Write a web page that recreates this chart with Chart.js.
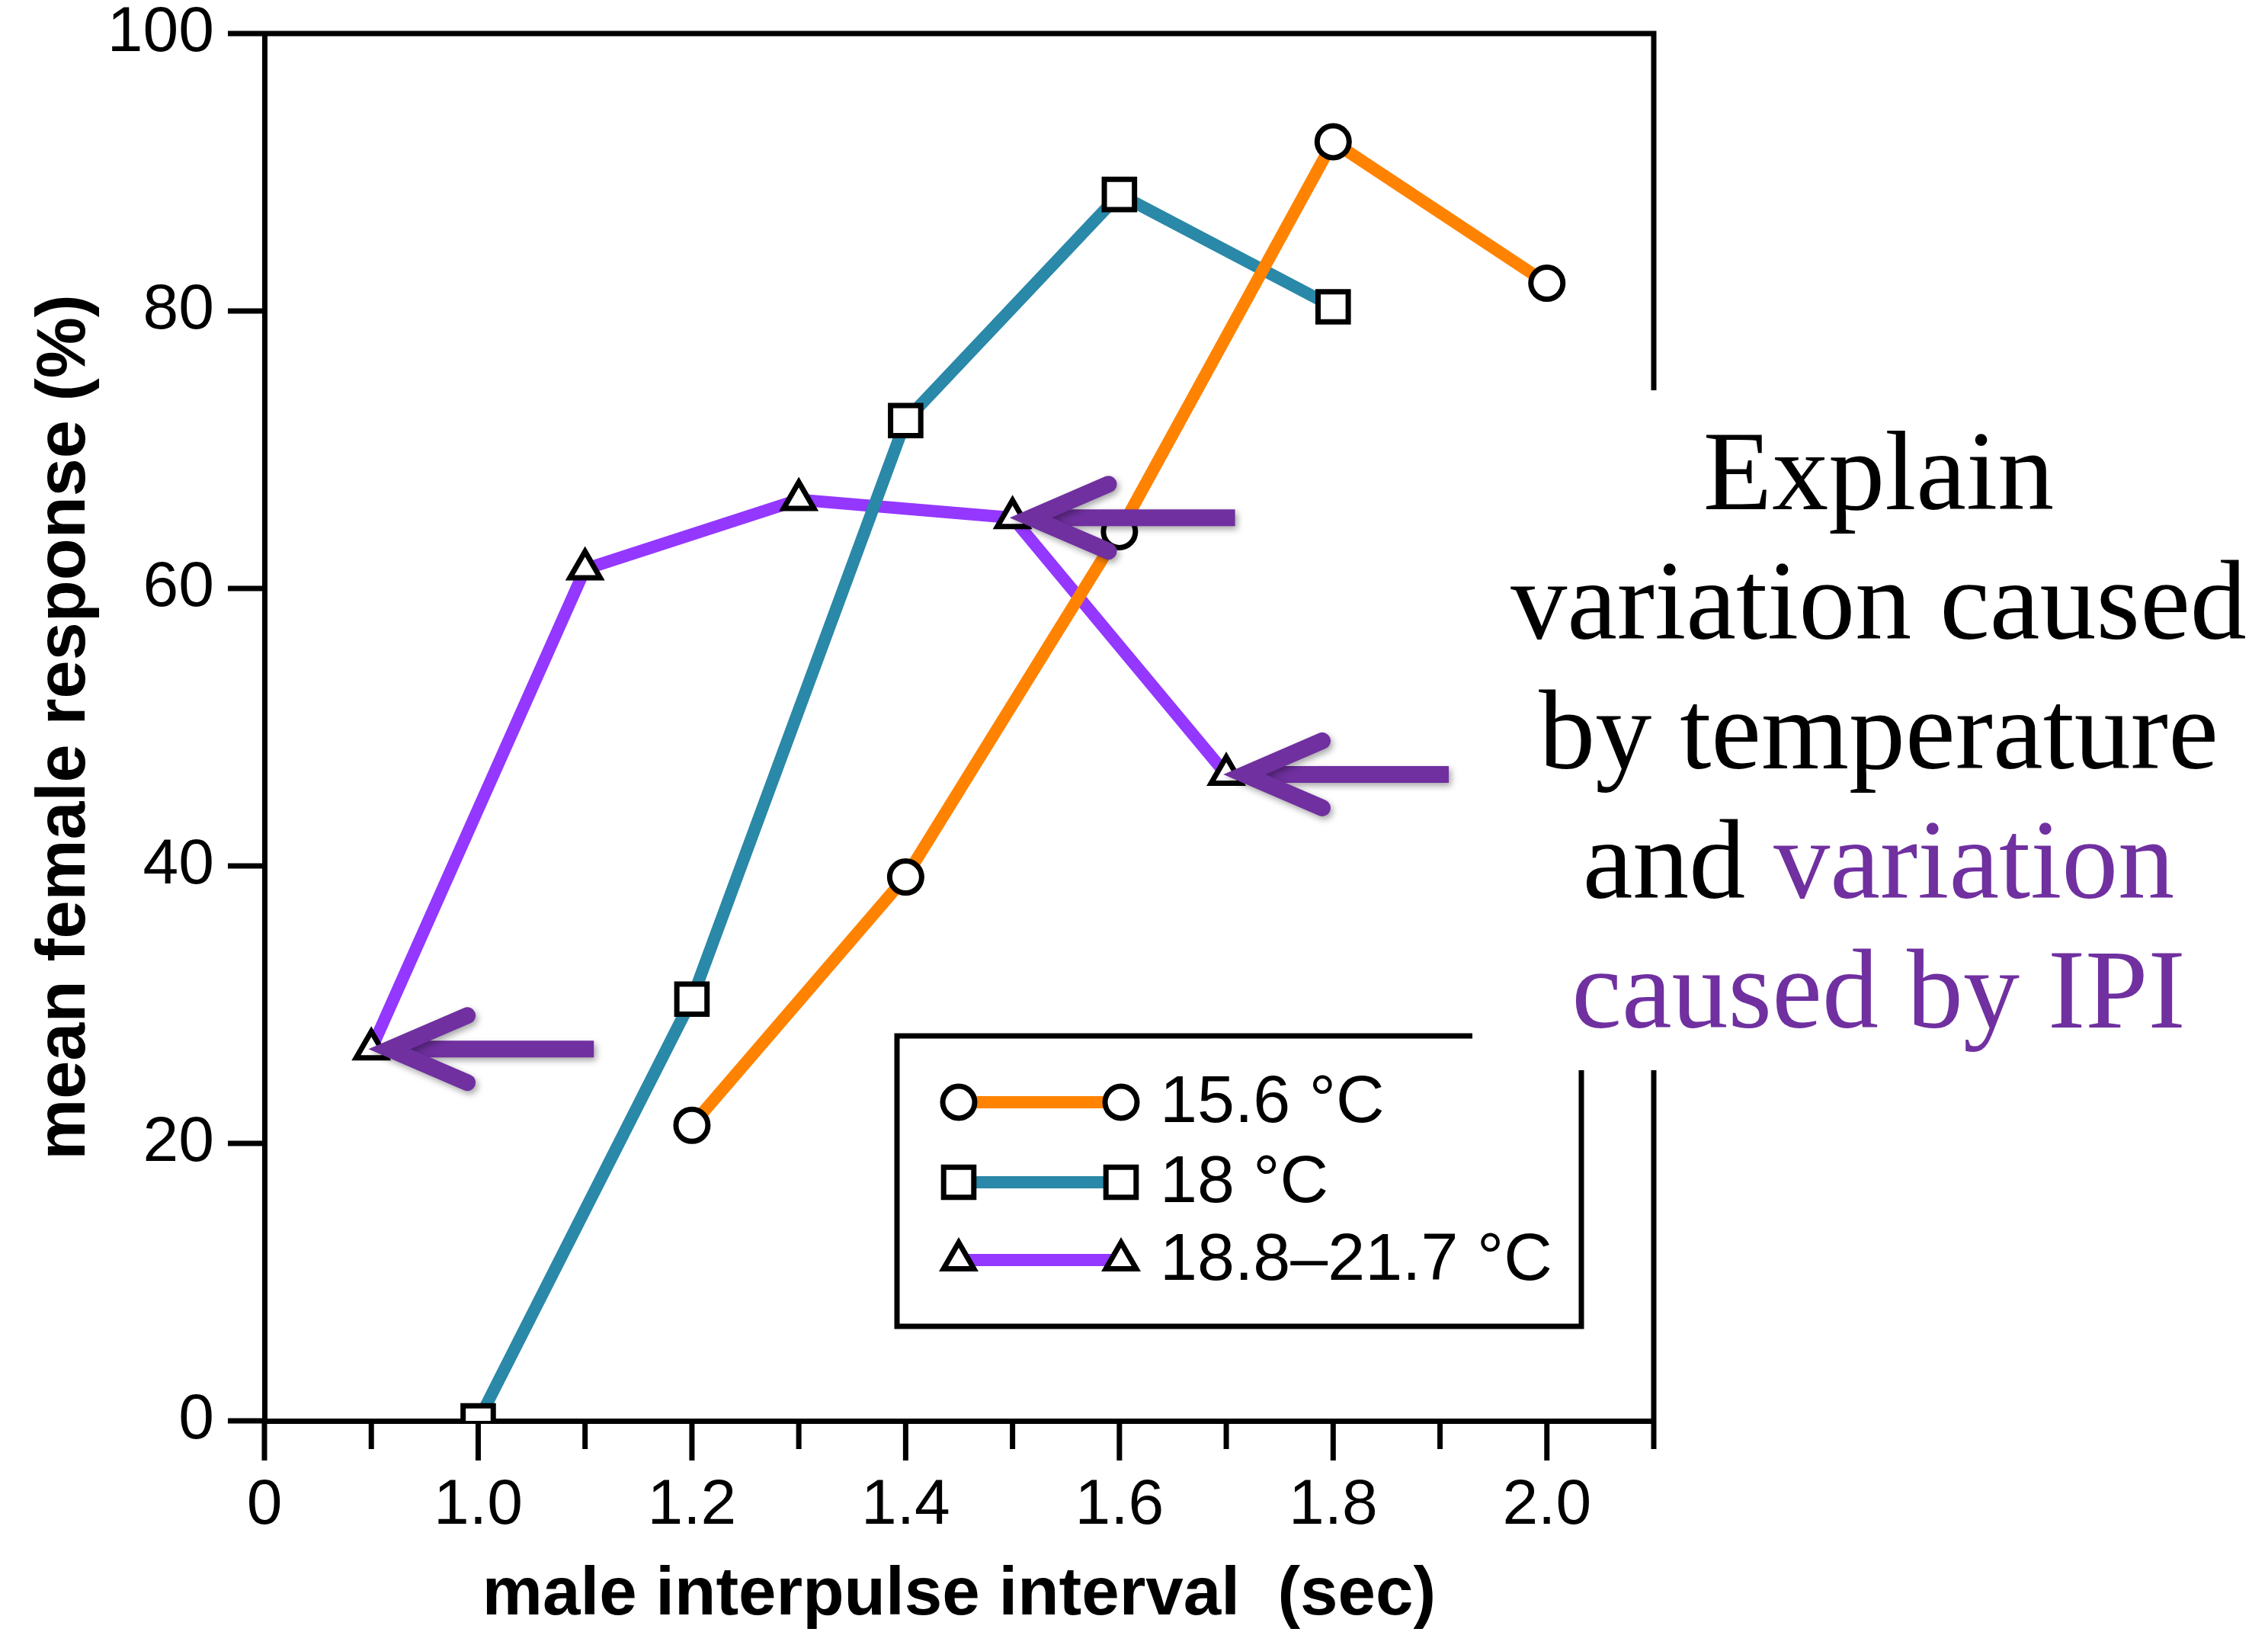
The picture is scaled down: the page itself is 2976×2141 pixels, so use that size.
<!DOCTYPE html>
<html>
<head>
<meta charset="utf-8">
<script src="https://cdn.jsdelivr.net/npm/chart.js@4.4.0/dist/chart.umd.min.js"></script>
<style>
html,body{margin:0;padding:0;background:#fff;}
#wrap{width:2976px;height:2141px;position:relative;background:#fff;}
canvas{display:block;}
</style>
</head>
<body>
<div id="wrap"><canvas id="c" width="2976" height="2141"></canvas></div>
<script>
// ---------------- data ----------------
const seriesLabels = ['15.6 °C', '18 °C', '18.8–21.7 °C'];
const orangeX = [1.2, 1.4, 1.6, 1.8, 2.0];
const orangeY = [21.3, 39.2, 64.1, 92.2, 82.0];
const blueX = [1.0, 1.2, 1.4, 1.6, 1.8];
const blueY = [0, 30.4, 72.1, 88.4, 80.3];
const purpleX = [0.9, 1.1, 1.3, 1.5, 1.7];
const purpleY = [26.8, 61.4, 66.4, 65.1, 46.6];
const xTickValues = [0.8, 0.9, 1.0, 1.1, 1.2, 1.3, 1.4, 1.5, 1.6, 1.7, 1.8, 1.9, 2.0, 2.1];
const xTickLabels = ['0', '', '1.0', '', '1.2', '', '1.4', '', '1.6', '', '1.8', '', '2.0', ''];
const yTickValues = [0, 20, 40, 60, 80, 100];
const xTitle = 'male interpulse interval  (sec)';
const yTitle = 'mean female response (%)';
const arrowPointIndex = [0, 3, 4]; // purple series points that the arrows indicate
const noteLines = [
  [['Explain', 'k']],
  [['variation caused', 'k']],
  [['by temperature', 'k']],
  [['and ', 'k'], ['variation', 'p']],
  [['caused by IPI', 'p']]
];

// ---------------- styles ----------------
const SANS = '"Liberation Sans", Arial, Helvetica, sans-serif';
const SERIF = '"Liberation Serif", "Times New Roman", Times, serif';
const C_ORANGE = '#FF8300';
const C_BLUE = '#2A88A8';
const C_PURPLE = '#9437FF';
const C_NOTE = '#7030A0';
const AXIS_W = 7;

function toPts(xs, ys) { return xs.map((x, i) => ({x: x, y: ys[i]})); }

function markerPath(ctx, style, r, x, y) {
  ctx.beginPath();
  if (style === 'circle') {
    ctx.arc(x, y, r, 0, Math.PI * 2);
  } else if (style === 'rect') {
    const s = Math.SQRT1_2 * r;
    ctx.rect(x - s, y - s, 2 * s, 2 * s);
  } else if (style === 'triangle') {
    ctx.moveTo(x, y - r);
    ctx.lineTo(x + Math.sin(2 * Math.PI / 3) * r, y - Math.cos(2 * Math.PI / 3) * r);
    ctx.lineTo(x + Math.sin(4 * Math.PI / 3) * r, y - Math.cos(4 * Math.PI / 3) * r);
    ctx.closePath();
  }
}

const decorPlugin = {
  id: 'decor',
  beforeDatasetsDraw(chart) {
    const {ctx, chartArea: a, scales: {x, y}} = chart;
    ctx.save();
    ctx.strokeStyle = '#000';
    ctx.lineCap = 'butt';
    // top + right frame
    ctx.lineWidth = AXIS_W;
    ctx.beginPath();
    ctx.moveTo(a.left, a.top);
    ctx.lineTo(a.right, a.top);
    ctx.lineTo(a.right, a.bottom);
    ctx.stroke();
    // y ticks (outside, left)
    ctx.lineWidth = AXIS_W;
    yTickValues.forEach(v => {
      const py = y.getPixelForValue(v);
      ctx.beginPath();
      ctx.moveTo(a.left - 48, py);
      ctx.lineTo(a.left, py);
      ctx.stroke();
    });
    // x ticks (outside, below): long at labelled, short otherwise
    xTickValues.forEach((v, i) => {
      const px = x.getPixelForValue(v);
      const len = xTickLabels[i] ? 52 : 37;
      ctx.beginPath();
      ctx.moveTo(px, a.bottom);
      ctx.lineTo(px, a.bottom + len);
      ctx.stroke();
    });
    ctx.restore();
  },
  afterDraw(chart) {
    const {ctx} = chart;
    const ds = chart.data.datasets;
    ctx.save();
    // ---------- legend ----------
    const L = {left: 1177, top: 1359, right: 2075, bottom: 1740};
    ctx.strokeStyle = '#000';
    ctx.lineWidth = AXIS_W;
    ctx.strokeRect(L.left, L.top, L.right - L.left, L.bottom - L.top);
    const rowY = [1446, 1551, 1653];
    const m1 = 1258, m2 = 1471, tx = 1522;
    ds.forEach((d, i) => {
      const yy = rowY[i];
      ctx.strokeStyle = d.borderColor;
      ctx.lineWidth = d.borderWidth;
      ctx.beginPath();
      ctx.moveTo(m1, yy);
      ctx.lineTo(m2, yy);
      ctx.stroke();
      [m1, m2].forEach(mx => {
        markerPath(ctx, d.pointStyle, d.pointRadius, mx, yy);
        ctx.fillStyle = '#fff';
        ctx.fill();
        ctx.lineWidth = d.pointBorderWidth;
        ctx.strokeStyle = '#000';
        ctx.stroke();
      });
      ctx.fillStyle = '#000';
      ctx.font = '88px ' + SANS;
      ctx.textBaseline = 'middle';
      ctx.textAlign = 'left';
      ctx.fillText(d.label, tx, yy + 2);
    });
    // ---------- arrows ----------
    const meta = chart.getDatasetMeta(2);
    ctx.strokeStyle = C_NOTE;
    ctx.lineWidth = 22;
    ctx.shadowColor = 'rgba(0,0,0,0.35)';
    ctx.shadowBlur = 8;
    ctx.shadowOffsetX = 3;
    ctx.shadowOffsetY = 4;
    arrowPointIndex.forEach(idx => {
      const el = meta.data[idx];
      const tipX = el.x + 24, tipY = el.y;
      ctx.lineCap = 'butt';
      ctx.beginPath();
      ctx.moveTo(tipX + 14, tipY);
      ctx.lineTo(tipX + 268, tipY);
      ctx.stroke();
      ctx.lineCap = 'round';
      ctx.lineJoin = 'miter';
      ctx.beginPath();
      ctx.moveTo(tipX + 102, tipY - 44);
      ctx.lineTo(tipX, tipY);
      ctx.lineTo(tipX + 102, tipY + 44);
      ctx.stroke();
    });
    ctx.shadowColor = 'transparent';
    ctx.shadowBlur = 0;
    ctx.shadowOffsetX = 0;
    ctx.shadowOffsetY = 0;
    // ---------- note box ----------
    ctx.fillStyle = '#fff';
    ctx.fillRect(1932, 512, 2976 - 1932, 1404 - 512);
    ctx.font = '148px ' + SERIF;
    ctx.textBaseline = 'alphabetic';
    ctx.textAlign = 'left';
    const cx = 2465;
    noteLines.forEach((parts, i) => {
      const by = 668 + i * 170;
      const w = parts.reduce((s, p) => s + ctx.measureText(p[0]).width, 0);
      let xx = cx - w / 2;
      parts.forEach(p => {
        ctx.fillStyle = p[1] === 'p' ? C_NOTE : '#000';
        ctx.fillText(p[0], xx, by);
        xx += ctx.measureText(p[0]).width;
      });
    });
    ctx.restore();
  }
};

const common = {
  fill: false,
  tension: 0,
  borderWidth: 16,
  pointBackgroundColor: '#fff',
  pointBorderColor: '#000',
  pointBorderWidth: 7,
  pointHoverRadius: 0
};

new Chart(document.getElementById('c'), {
  type: 'line',
  data: {
    datasets: [
      Object.assign({label: seriesLabels[0], data: toPts(orangeX, orangeY), borderColor: C_ORANGE, pointStyle: 'circle', pointRadius: 21}, common),
      Object.assign({label: seriesLabels[1], data: toPts(blueX, blueY), borderColor: C_BLUE, pointStyle: 'rect', pointRadius: 28}, common),
      Object.assign({label: seriesLabels[2], data: toPts(purpleX, purpleY), borderColor: C_PURPLE, pointStyle: 'triangle', pointRadius: 23}, common)
    ]
  },
  options: {
    responsive: false,
    animation: false,
    devicePixelRatio: 1,
    layout: {padding: {top: 44, right: 806, left: 0, bottom: 0}},
    plugins: {legend: {display: false}, tooltip: {enabled: false}},
    scales: {
      x: {
        type: 'linear',
        min: 0.8,
        max: 2.1,
        afterBuildTicks(s) { s.ticks = xTickValues.map(v => ({value: v})); },
        afterFit(s) { s.height = 277; s.paddingLeft = 0; s.paddingRight = 0; },
        grid: {display: false, drawTicks: false},
        border: {display: true, color: '#000', width: AXIS_W},
        ticks: {
          autoSkip: false, maxRotation: 0, minRotation: 0, padding: 70, color: '#000',
          font: {family: SANS, size: 84, lineHeight: 1},
          callback: (v, i) => xTickLabels[i]
        },
        title: {display: true, text: xTitle, color: '#000', font: {family: SANS, size: 89, weight: 'bold', lineHeight: 1}, padding: {top: 0, bottom: 3}}
      },
      y: {
        type: 'linear',
        min: 0,
        max: 100,
        afterBuildTicks(s) { s.ticks = yTickValues.map(v => ({value: v})); },
        afterFit(s) { s.width = 347; s.paddingTop = 0; s.paddingBottom = 0; },
        grid: {display: false, drawTicks: false},
        border: {display: true, color: '#000', width: AXIS_W},
        ticks: {
          padding: 66, color: '#000',
          font: {family: SANS, size: 84, lineHeight: 1},
          callback: (v) => String(v)
        },
        title: {display: true, text: yTitle, color: '#000', font: {family: SANS, size: 90, weight: 'bold', lineHeight: 1}, padding: {top: 41, bottom: 0}}
      }
    }
  },
  plugins: [decorPlugin]
});
</script>
</body>
</html>
